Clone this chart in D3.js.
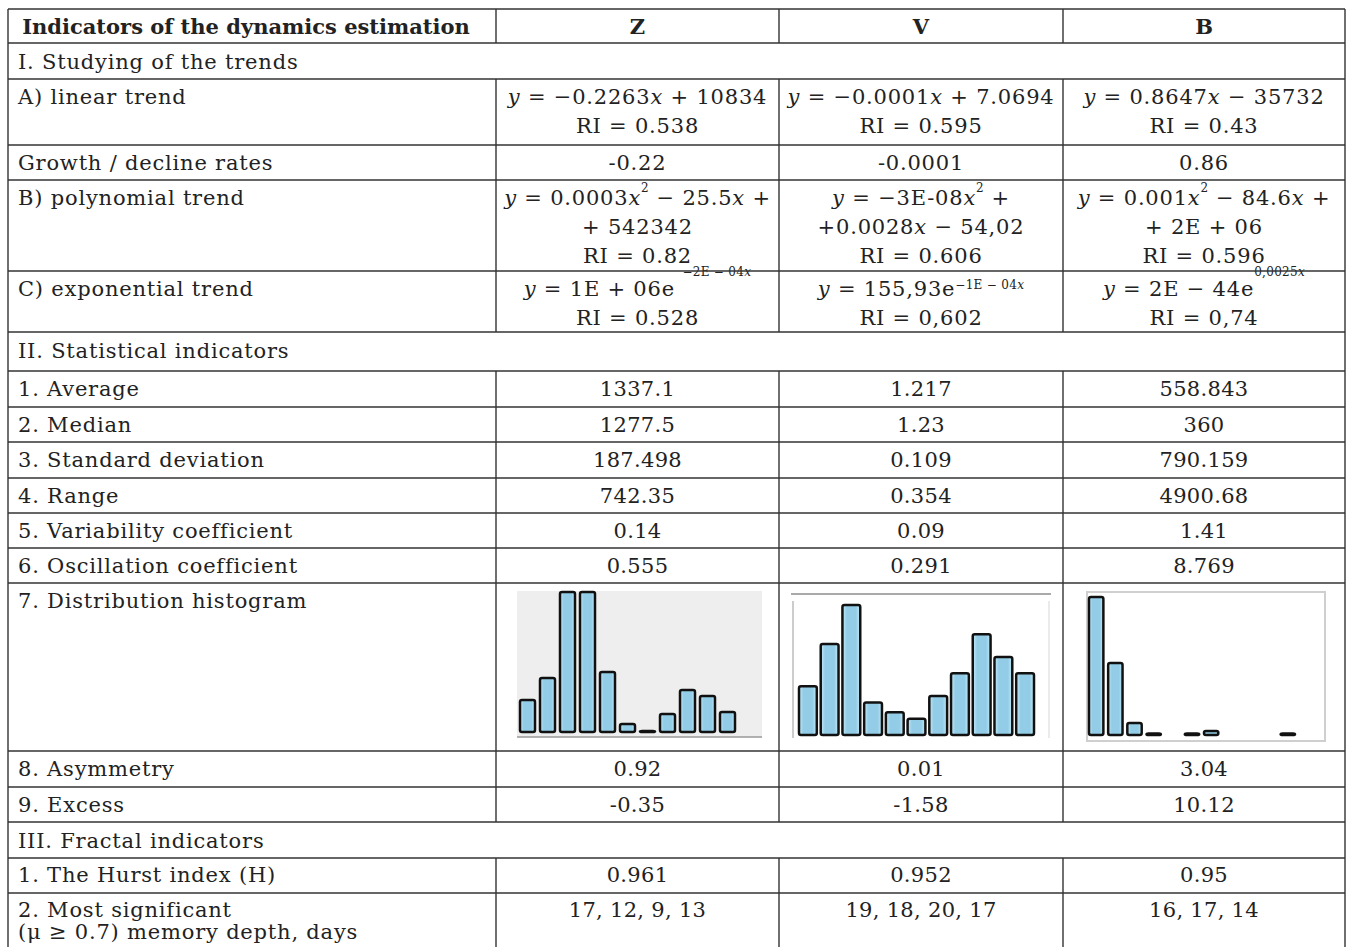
<!doctype html>
<html>
<head>
<script src="https://cdnjs.cloudflare.com/ajax/libs/d3/7.8.5/d3.min.js"></script>
<style>
body { margin: 0; background: #fff; }
text { font-family: "DejaVu Serif", serif; font-size: 21px; fill: #222; letter-spacing: 0.8px; }
text.head { font-weight: bold; letter-spacing: 0; }
text.num { letter-spacing: 0.3px; }
line.grid { stroke: #333; stroke-width: 1.4px; }
rect.bar { stroke: #111; stroke-width: 2.5px; }
</style>
</head>
<body>
<svg id="tbl" width="1349" height="947"></svg>
<script>
// ---- data ----
var colNames = ["Indicators of the dynamics estimation", "Z", "V", "B"];
var sections = ["I. Studying of the trends", "II. Statistical indicators", "III. Fractal indicators"];

var trendLabels = ["A) linear trend", "Growth / decline rates", "B) polynomial trend", "C) exponential trend"];
var trendZ = [["*y* = −0.2263*x* + 10834", "RI = 0.538"], ["-0.22"],
  ["*y* = 0.0003*x*^2^ − 25.5*x* +", "+ 542342", "RI = 0.82"], ["*y* = 1E + 06e `−2E − 04*x*`", "RI = 0.528"]];
var trendV = [["*y* = −0.0001*x* + 7.0694", "RI = 0.595"], ["-0.0001"],
  ["*y* = −3E-08*x*^2^ +", "+0.0028*x* − 54,02", "RI = 0.606"], ["*y* = 155,93e~−1E − 04*x*~", "RI = 0,602"]];
var trendB = [["*y* = 0.8647*x* − 35732", "RI = 0.43"], ["0.86"],
  ["*y* = 0.001*x*^2^ − 84.6*x* +", "+ 2E + 06", "RI = 0.596"], ["*y* = 2E − 44e`0,0025*x*`", "RI = 0,74"]];

var statLabels = ["1. Average", "2. Median", "3. Standard deviation", "4. Range",
  "5. Variability coefficient", "6. Oscillation coefficient"];
var statZ = ["1337.1", "1277.5", "187.498", "742.35", "0.14", "0.555"];
var statV = ["1.217", "1.23", "0.109", "0.354", "0.09", "0.291"];
var statB = ["558.843", "360", "790.159", "4900.68", "1.41", "8.769"];

var histLabel = "7. Distribution histogram";
var histZ = [16, 27, 70, 70, 30, 4, 0.5, 9, 21, 18, 10, 0];
var histV = [15, 28, 40, 10, 7, 5, 12, 19, 31, 24, 19];
var histB = [92, 48, 8, 1, 0, 1, 2.7, 0, 0, 0, 1];

var shapeLabels = ["8. Asymmetry", "9. Excess"];
var shapeZ = ["0.92", "-0.35"];
var shapeV = ["0.01", "-1.58"];
var shapeB = ["3.04", "10.12"];

var fractalLabels = [["1. The Hurst index (H)"], ["2. Most significant", "(μ ≥ 0.7) memory depth, days"]];
var fractalZ = ["0.961", "17, 12, 9, 13"];
var fractalV = ["0.952", "19, 18, 20, 17"];
var fractalB = ["0.95", "16, 17, 14"];

// ---- layout ----
var colEdges = [8, 496, 779, 1063, 1345];
var rowHeights = [34, 36, 66, 35, 91, 61, 39, 36, 35, 36, 35, 35, 35, 168, 36, 35, 36, 35, 60];
var top0 = 9, lineGap = 29;

var rows = [{kind: "head", label: [colNames[0]], cells: colNames.slice(1).map(function(c){ return [c]; })},
  {kind: "section", label: [sections[0]]}];
trendLabels.forEach(function(l, i){ rows.push({kind: "data", label: [l], cells: [trendZ[i], trendV[i], trendB[i]]}); });
rows.push({kind: "section", label: [sections[1]]});
statLabels.forEach(function(l, i){ rows.push({kind: "data", num: true, label: [l], cells: [[statZ[i]], [statV[i]], [statB[i]]]}); });
rows.push({kind: "hist", label: [histLabel], cells: [[], [], []]});
shapeLabels.forEach(function(l, i){ rows.push({kind: "data", num: true, label: [l], cells: [[shapeZ[i]], [shapeV[i]], [shapeB[i]]]}); });
rows.push({kind: "section", label: [sections[2]]});
fractalLabels.forEach(function(l, i){ rows.push({kind: "data", num: true, gap: 22, off: 24, label: l, cells: [[fractalZ[i]], [fractalV[i]], [fractalB[i]]]}); });

var y = top0;
rows.forEach(function(r, i){ r.y0 = y; r.h = rowHeights[i]; y += r.h; });

var svg = d3.select("#tbl");

// split "*italic*", "^sup^", "~low sup~", "`high sup`"
var raise = {"^": 13, "~": 7, "`": 20};
function runs(str) {
  var out = [], it = false, sup = null, buf = "";
  function flush(){ if (buf) { out.push({t: buf, it: it, sup: sup}); buf = ""; } }
  for (var ch of str) {
    if (ch === "*") { flush(); it = !it; }
    else if (raise[ch] !== undefined) { flush(); sup = (sup === ch) ? null : ch; }
    else buf += ch;
  }
  flush();
  return out;
}

function writeLine(g, str, x, yy, anchor, cls) {
  var t = g.append("text").attr("x", x).attr("y", yy).attr("text-anchor", anchor);
  if (cls) t.attr("class", cls);
  var cur = 0;
  runs(str).forEach(function(r){
    var lift = r.sup ? raise[r.sup] : 0;
    var ts = t.append("tspan").text(r.t).attr("dy", cur - lift);
    cur = lift;
    if (r.it) ts.style("font-style", "italic");
    if (r.sup) ts.style("font-size", "12px").style("letter-spacing", "0.3px");
  });
}

// ---- text ----
var gText = svg.append("g");
rows.forEach(function(r){
  var base = r.y0 + (r.off || (r.kind === "section" ? 26 : 25));
  var gap = r.gap || lineGap;
  var cls = r.kind === "head" ? "head" : null;
  r.label.forEach(function(s, k){
    if (r.kind === "head") writeLine(gText, s, (colEdges[0] + colEdges[1]) / 2 - 6, base + k * gap, "middle", cls);
    else writeLine(gText, s, colEdges[0] + 10, base + k * gap, "start", cls);
  });
  if (r.cells) r.cells.forEach(function(lines, c){
    var cx = (colEdges[c + 1] + colEdges[c + 2]) / 2;
    lines.forEach(function(s, k){ writeLine(gText, s, cx, base + k * gap, "middle", cls || (r.num ? "num" : null)); });
  });
});

// ---- grid ----
var gGrid = svg.append("g");
var yEnd = rows[rows.length - 1].y0 + rows[rows.length - 1].h;
rows.forEach(function(r){
  gGrid.append("line").attr("class", "grid")
    .attr("x1", colEdges[0]).attr("x2", colEdges[4]).attr("y1", r.y0).attr("y2", r.y0);
  if (r.kind !== "section") {
    colEdges.slice(1, 4).forEach(function(x){
      gGrid.append("line").attr("class", "grid").attr("x1", x).attr("x2", x).attr("y1", r.y0).attr("y2", r.y0 + r.h);
    });
  }
});
[colEdges[0], colEdges[4]].forEach(function(x){
  gGrid.append("line").attr("class", "grid").attr("x1", x).attr("x2", x).attr("y1", top0).attr("y2", yEnd);
});

// ---- histograms ----
var defs = svg.append("defs");
var grad = defs.append("linearGradient").attr("id", "barFill").attr("x1", 0).attr("x2", 1).attr("y1", 0).attr("y2", 0);
grad.append("stop").attr("offset", "0%").attr("stop-color", "#c4eaf8");
grad.append("stop").attr("offset", "25%").attr("stop-color", "#92cce6");
grad.append("stop").attr("offset", "75%").attr("stop-color", "#92cce6");
grad.append("stop").attr("offset", "100%").attr("stop-color", "#c4eaf8");

var histRow = rows.filter(function(r){ return r.kind === "hist"; })[0];
var hy = histRow.y0;

function drawHist(values, xr, base, topY, maxV, pad) {
  var g = svg.append("g");
  var x = d3.scaleBand().domain(d3.range(values.length)).range(xr).paddingInner(pad).paddingOuter(0);
  var yS = d3.scaleLinear().domain([0, maxV]).range([base, topY]);
  g.selectAll("rect.bar").data(values.map(function(v, i){ return {i: i, v: v}; }).filter(function(d){ return d.v > 0; }))
    .enter().append("rect").attr("class", "bar")
    .attr("x", function(d){ return x(d.i); })
    .attr("width", x.bandwidth())
    .attr("y", function(d){ return yS(d.v); })
    .attr("height", function(d){ return base - yS(d.v); })
    .attr("rx", 2)
    .attr("fill", "url(#barFill)");
  return g;
}

// Z: grey panel
svg.append("rect").attr("x", 517).attr("y", hy + 8).attr("width", 245).attr("height", 146).attr("fill", "#eeeeee");
svg.append("line").attr("x1", 517).attr("x2", 762).attr("y1", hy + 154).attr("y2", hy + 154).attr("stroke", "#999").attr("stroke-width", 1.5);
drawHist(histZ, [520, 755], hy + 149, hy + 9, 70, 0.25);

// V: open frame
var fv = svg.append("g").attr("stroke", "#aaa").attr("fill", "none");
fv.append("line").attr("x1", 791).attr("x2", 1051).attr("y1", hy + 11).attr("y2", hy + 11).attr("stroke-width", 2);
fv.append("line").attr("x1", 793).attr("x2", 793).attr("y1", hy + 18).attr("y2", hy + 155).attr("stroke-width", 1.2);
fv.append("line").attr("x1", 1049).attr("x2", 1049).attr("y1", hy + 18).attr("y2", hy + 155).attr("stroke-width", 1.2).attr("stroke", "#ddd");
drawHist(histV, [799, 1034], hy + 152, hy + 22, 40, 0.18);

// B: light frame
svg.append("rect").attr("x", 1087).attr("y", hy + 9).attr("width", 238).attr("height", 149)
  .attr("fill", "none").attr("stroke", "#cfcfcf").attr("stroke-width", 2);
drawHist(histB, [1089, 1295], hy + 152, hy + 14, 92, 0.25);
</script>
</body>
</html>
